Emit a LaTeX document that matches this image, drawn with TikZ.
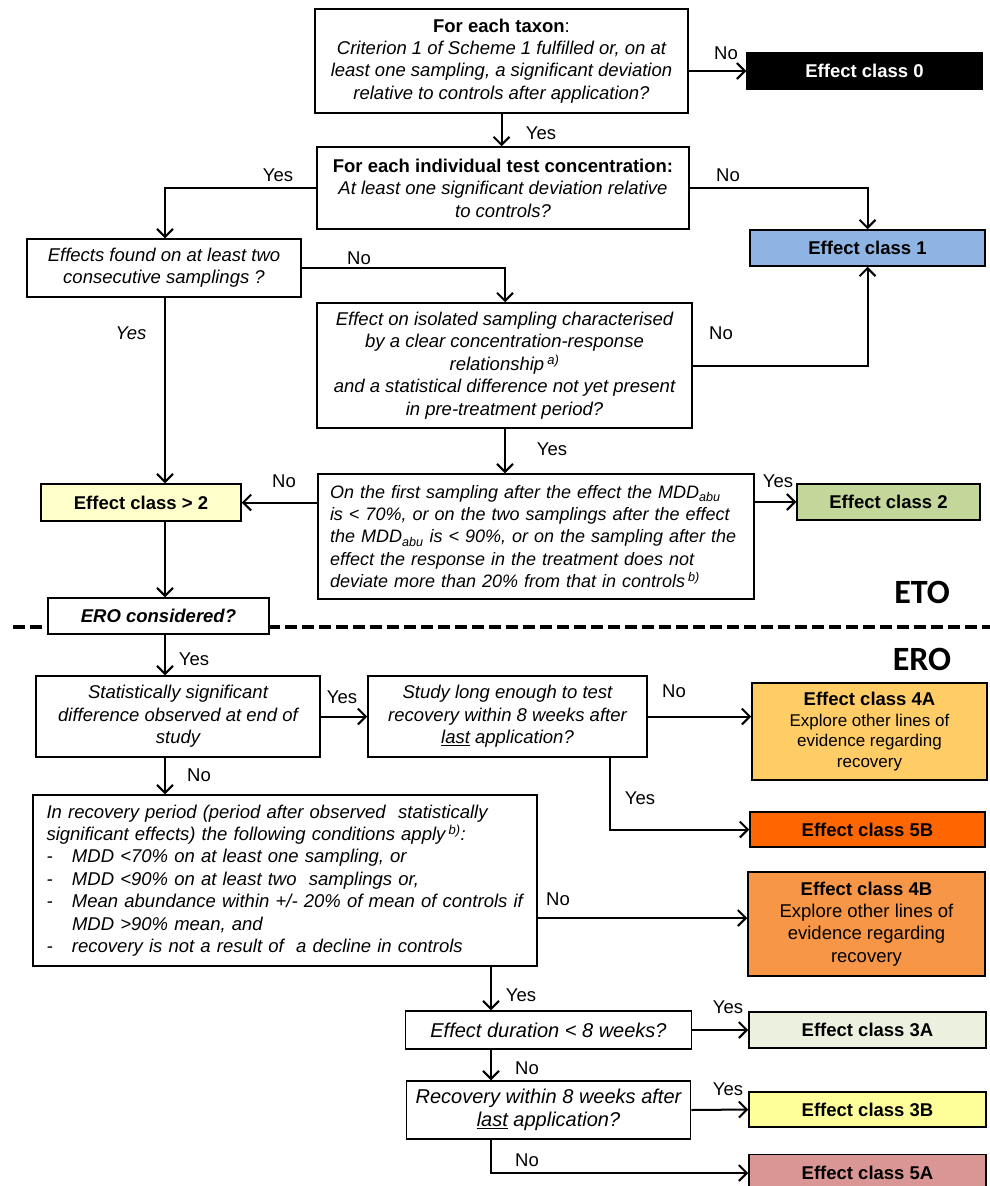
\documentclass[tikz,border=0pt]{standalone}
\usepackage{fontspec}
\setmainfont{Liberation Sans}
\newfontfamily\calib{Carlito}
\usetikzlibrary{arrows.meta}
\definecolor{cA}{HTML}{8DB4E2}
\definecolor{cGT}{HTML}{FFFFCC}
\definecolor{cB}{HTML}{C4D79B}
\definecolor{cFA}{HTML}{FFCC66}
\definecolor{cFB}{HTML}{FF6600}
\definecolor{cFFB}{HTML}{F79646}
\definecolor{cTA}{HTML}{EBF1DE}
\definecolor{cTB}{HTML}{FFFF99}
\definecolor{cFIA}{HTML}{DA9694}
\begin{document}
\begin{tikzpicture}[x=1pt,y=-1pt,
 box/.style={draw,line width=1.5pt,fill=white,inner sep=0pt,align=center,font=\fontsize{18.5}{22.4}\selectfont\itshape},
 lbox/.style={box,align=left},
 ec/.style={draw,line width=1.5pt,inner sep=0pt,align=center,font=\fontsize{18.5}{22}\selectfont\bfseries},
 lab/.style={inner sep=0pt,font=\fontsize{18.5}{22}\selectfont},
 arr/.style={line width=2pt,-{Straight Barb[length=8pt,width=16pt]}},
 bigl/.style={inner sep=0pt,font=\calib\fontsize{34}{40}\selectfont\bfseries},
]
\useasboundingbox (0,0) rectangle (990,1186);
\clip (0,0) rectangle (990,1186);

% separator
\draw[line width=4pt,dash pattern=on 12pt off 5pt] (13,626.5) -- (990,626.5);

% ETO part
\node[box,minimum width=373pt,minimum height=104pt] (b1) at (501.5,61)
 {{\upshape\bfseries For each taxon}{\upshape :}\\
  Criterion 1 of Scheme 1 fulfilled or, on at\\
  least one sampling, a significant deviation\\
  relative to controls after application?};
\node[ec,fill=black,text=white,minimum width=235pt,minimum height=36pt] (e0) at (864.5,71) {Effect class 0};
\node[box,minimum width=372pt,minimum height=82pt] (b2) at (503,188)
 {{\upshape\bfseries For each individual test concentration:}\\
  At least one significant deviation relative\\
  to controls?};
\node[ec,fill=cA,minimum width=235pt,minimum height=36pt] (e1) at (867.5,248) {Effect class 1};
\node[box,minimum width=274pt,minimum height=58pt] (b3) at (164,268)
 {Effects found on at least two\\ consecutive samplings ?};
\node[box,minimum width=375pt,minimum height=125pt] (b4) at (504.5,365.5)
 {Effect on isolated sampling characterised\\
  by a clear concentration-response\\
  relationship\,\textsuperscript{a)}\\
  and a statistical difference not yet present\\
  in pre-treatment period?};
\node[lbox,inner xsep=12pt,text width=412pt,minimum height=125pt,font=\fontsize{18}{22.2}\selectfont\itshape] (b5) at (536,536.5)
 {On the first sampling after the effect the MDD\textsubscript{abu}\\
  is < 70\%, or on the two samplings after the effect\\
  the MDD\textsubscript{abu} is < 90\%, or on the sampling after the\\
  effect the response in the treatment does not\\
  deviate more than 20\% from that in controls\,\textsuperscript{b)}};
\node[ec,fill=cGT,minimum width=200pt,minimum height=37pt] (gt2) at (141,502.5) {Effect class > 2};
\node[ec,fill=cB,minimum width=183pt,minimum height=36pt] (e2) at (888.5,502) {Effect class 2};
\node[box,minimum width=221pt,minimum height=36pt,font=\fontsize{18.5}{22}\selectfont\bfseries\itshape] (ero) at (158.5,616) {ERO considered?};
\node[bigl] (eto) at (922,592) {ETO};
\node[bigl] (erot) at (922,659) {ERO};

% ERO part
\node[box,minimum width=284pt,minimum height=81pt] (b6) at (178,716.5)
 {Statistically significant\\ difference observed at end of\\ study};
\node[box,minimum width=279pt,minimum height=81pt] (b7) at (507.5,716.5)
 {Study long enough to test\\ recovery within 8 weeks after\\ \underline{last} application?};
\node[ec,fill=cFA,minimum width=235pt,minimum height=97pt,font=\fontsize{17}{20.7}\selectfont] (e4a) at (869.5,731.5)
 {{\fontsize{18.5}{20.7}\selectfont\bfseries Effect class 4A}\\ Explore other lines of\\ evidence regarding\\ recovery};
\node[ec,fill=cFB,minimum width=235pt,minimum height=35pt] (e5b) at (867.5,829.5) {Effect class 5B};
\node[lbox,inner xsep=13.5pt,text width=477pt,minimum height=171pt] (b8) at (285,880.5)
 {In recovery period (period after observed\ \ statistically\\
  significant effects) the following conditions apply\,\textsuperscript{b)}:\\
  \makebox[25.5pt][l]{-}MDD <70\% on at least one sampling, or\\
  \makebox[25.5pt][l]{-}MDD <90\% on at least two\ \ samplings or,\\
  \makebox[25.5pt][l]{-}Mean abundance within +/- 20\% of mean of controls if\\
  \makebox[25.5pt][l]{}MDD >90\% mean, and\\
  \makebox[25.5pt][l]{-}recovery is not a result of\ \ a decline in controls};
\node[ec,fill=cFFB,minimum width=237pt,minimum height=104pt,font=\fontsize{18.5}{22.3}\selectfont] (e4b) at (866.5,924)
 {{\bfseries Effect class 4B}\\ Explore other lines of\\ evidence regarding\\ recovery};
\node[box,minimum width=286pt,minimum height=38pt,font=\fontsize{20}{23}\selectfont\itshape] (b9) at (548.5,1030)
 {Effect duration < 8 weeks?};
\node[ec,fill=cTA,minimum width=237pt,minimum height=36pt] (e3a) at (867.5,1030) {Effect class 3A};
\node[box,minimum width=284pt,minimum height=58pt,font=\fontsize{20}{23}\selectfont\itshape] (b10) at (548.5,1110)
 {Recovery within 8 weeks after\\ \underline{last} application?};
\node[ec,fill=cTB,minimum width=237pt,minimum height=35pt] (e3b) at (867.5,1109.5) {Effect class 3B};
\node[ec,fill=cFIA,minimum width=237pt,minimum height=37pt] (e5a) at (867.5,1173) {Effect class 5A};

% spine coordinates
\coordinate (sp) at (491,1000);
\coordinate (sp2) at (610,780);
\coordinate (sp3) at (165,500);
\coordinate (sp4) at (505,400);
\coordinate (r8) at (537,918);

% connectors
\draw[arr] (b1.east |- e0.west) -- (e0.west);
\draw[arr] (b1.south) -- (b1.south |- b2.north);
\draw[arr] (b2.west) -| (sp3 |- b3.north);
\draw[arr] (b2.east) -| (e1.north);
\draw[arr] (b3.east) -| (sp4 |- b4.north);
\draw[arr] (b4.east) -| (e1.south);
\draw[arr] (sp4 |- b4.south) -- (sp4 |- b5.north);
\draw[arr] (sp3 |- b3.south) -- (sp3 |- gt2.north);
\draw[arr] (b5.west |- gt2.east) -- (gt2.east);
\draw[arr] (b5.east |- e2.west) -- (e2.west);
\draw[arr] (sp3 |- gt2.south) -- (sp3 |- ero.north);
\draw[arr] (sp3 |- ero.south) -- (sp3 |- b6.north);
\draw[arr] (b6.east) -- (b7.west);
\draw[arr] (b7.east) -- (b7.east -| e4a.west);
\draw[arr] (sp2 |- b7.south) |- (e5b.west);
\draw[arr] (sp3 |- b6.south) -- (sp3 |- b8.north);
\draw[arr] (b8.east |- r8) -- (r8 -| e4b.west);
\draw[arr] (sp |- b8.south) -- (sp |- b9.north);
\draw[arr] (b9.east) -- (e3a.west);
\draw[arr] (sp |- b9.south) -- (sp |- b10.north);
\draw[arr] (b10.east) -- (e3b.west);
\draw[arr] (sp |- b10.south) |- (e5a.west);

% labels
\node[lab] (l1) at (726,53) {No};
\node[lab] (l2) at (541,133) {Yes};
\node[lab] (l3) at (278,175) {Yes};
\node[lab] (l4) at (728,175) {No};
\node[lab] (l5) at (359,258) {No};
\node[lab,font=\fontsize{18.5}{22}\selectfont\itshape] (l6) at (131,333) {Yes};
\node[lab] (l7) at (721,333) {No};
\node[lab] (l8) at (552,449) {Yes};
\node[lab] (l9) at (284,481) {No};
\node[lab] (l10) at (778,481) {Yes};
\node[lab] (l11) at (194,659) {Yes};
\node[lab] (l12) at (342,697) {Yes};
\node[lab] (l13) at (199,775) {No};
\node[lab] (l14) at (674,691) {No};
\node[lab] (l15) at (640,798) {Yes};
\node[lab] (l16) at (558,899) {No};
\node[lab] (l17) at (521,995) {Yes};
\node[lab] (l18) at (728,1007) {Yes};
\node[lab] (l19) at (527,1068) {No};
\node[lab] (l20) at (728,1089) {Yes};
\node[lab] (l21) at (527,1160) {No};
\end{tikzpicture}
\end{document}
